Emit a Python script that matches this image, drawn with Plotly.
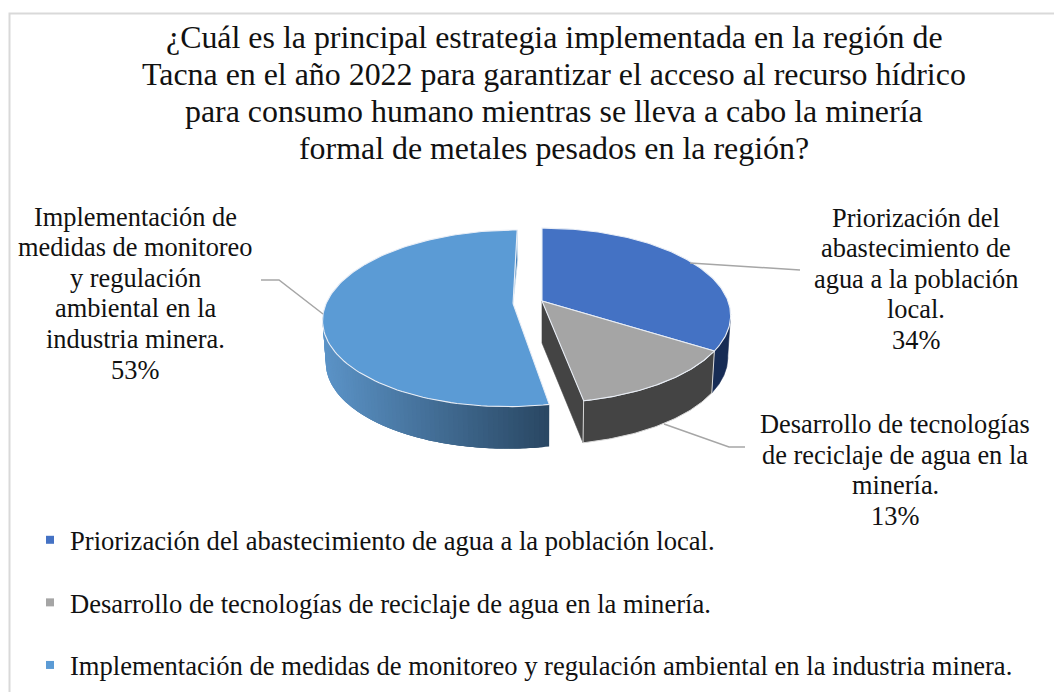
import math
import plotly.graph_objects as go

title_lines = ["¿Cuál es la principal estrategia implementada en la región de",
               "Tacna en el año 2022 para garantizar el acceso al recurso hídrico",
               "para consumo humano mientras se lleva a cabo la minería",
               "formal de metales pesados en la región?"]
categories = ["Priorización del abastecimiento de agua a la población local.",
              "Desarrollo de tecnologías de reciclaje de agua en la minería.",
              "Implementación de medidas de monitoreo y regulación ambiental en la industria minera."]
values = [34, 13, 53]
wrapped = [["Priorización del", "abastecimiento de", "agua a la población", "local."],
           ["Desarrollo de tecnologías", "de reciclaje de agua en la", "minería."],
           ["Implementación de", "medidas de monitoreo", "y regulación", "ambiental en la", "industria minera."]]
top_colors = ["#4472C4", "#A5A5A5", "#5B9BD5"]
wall_colors = ["#172C55", "#444444", None]
FONT = "Liberation Serif"

# projection of the pie disc
CX, CY, A, B, K = 542, 301, 186, 85, 0.166
DEPTH, SHRINK = 42, 0.985
EXPLODE = [(0, 0), (0, 0), (-0.155, -0.03)]


def project(X, Y, off=(0, 0), low=False):
    X, Y = X + off[0], Y + off[1]
    d = 1 + K * Y
    x, y = CX + A * X / d, CY - B * Y / d
    if low:
        x, y = CX + SHRINK * (x - CX), y + DEPTH
    return x, y


def arc(t0, t1, off, low=False, n=60):
    pts = []
    for i in range(n + 1):
        t = math.radians(t0 + (t1 - t0) * i / n)
        pts.append(project(math.sin(t), math.cos(t), off, low))
    return pts


def poly(fig, pts, fill, line="white", width=1.0):
    kw = dict(mode="lines", line=dict(color=line, width=width)) if width else dict(mode="none")
    fig.add_trace(go.Scatter(x=[p[0] for p in pts] + [pts[0][0]],
                             y=[p[1] for p in pts] + [pts[0][1]],
                             fill="toself", fillcolor=fill,
                             hoverinfo="skip", showlegend=False, **kw))


def mix(c0, c1, f):
    f = max(0, min(1, f))
    return "rgb(%d,%d,%d)" % tuple(c0[i] + (c1[i] - c0[i]) * f for i in range(3))


total = sum(values)
edges = [0]
for v in values:
    edges.append(edges[-1] + 360 * v / total)
SILHOUETTE = 261.4   # left outline of the disc
RIGHT_SILH = 98.6    # right outline of the disc

fig = go.Figure()

# exploded big slice: outer wall as a horizontal gradient, strips overlap to hide seams
big0, big1 = edges[2], edges[3]
off = EXPLODE[2]
N = 70
x_right = project(math.sin(math.radians(big0)), math.cos(math.radians(big0)), off)[0]
x_left = project(math.sin(math.radians(SILHOUETTE)), math.cos(math.radians(SILHOUETTE)), off)[0]
for i in range(N):
    t0 = big0 + (SILHOUETTE - big0) * i / N
    t1 = min(SILHOUETTE, t0 + (SILHOUETTE - big0) * 3 / N)
    up = arc(t0, t1, off, n=4)
    lo = arc(t0, t1, off, low=True, n=4)
    f = (x_right - up[0][0]) / (x_right - x_left)
    col = mix((42, 72, 100), (92, 148, 200), f)
    poly(fig, lo + up[::-1], col, width=0)

# blue slice wall
o0 = EXPLODE[0]
poly(fig, arc(RIGHT_SILH, edges[1], o0) + arc(RIGHT_SILH, edges[1], o0, low=True)[::-1], wall_colors[0], line=wall_colors[0], width=0.6)

# grey slice walls: cut face and outer wall
o1 = EXPLODE[1]
apex = project(0, 0, o1)
a0 = arc(edges[2], edges[2], o1, n=1)[0]
poly(fig, [apex, a0, arc(edges[2], edges[2], o1, low=True, n=1)[0], project(0, 0, o1, low=True)], wall_colors[1], line=wall_colors[1], width=0.6)
poly(fig, arc(edges[1], edges[2], o1) + arc(edges[1], edges[2], o1, low=True)[::-1], wall_colors[1], line="#D9D9D9", width=1)

# top faces and legend entries
for i in range(3):
    off = EXPLODE[i]
    apex = project(0, 0, off)
    pts = [apex] + arc(edges[i], edges[i + 1], off, n=120)
    if i == 2:
        tip = pts[-1]
        poly(fig, [apex, tip, (tip[0] + 0.6, tip[1] + 30)], "#4B84BA", line="#DCE8F3", width=0.8)
    poly(fig, pts, top_colors[i], line="#E9EEF6", width=1.1)
    fig.add_trace(go.Scatter(x=[None], y=[None], mode="markers", name=categories[i],
                             legendgroup=categories[i],
                             marker=dict(symbol="square", size=8, color=top_colors[i])))

# leader lines and frame
LEAD = "#A6A6A6"
shapes = [
    dict(type="path", path="M 690 263 L 800 270", line=dict(color=LEAD, width=1.5), xref="x", yref="y"),
    dict(type="path", path="M 261 280 L 279 280 L 323 314", line=dict(color=LEAD, width=1.5), xref="x", yref="y"),
    dict(type="path", path="M 664 424 L 729 447 L 745 447", line=dict(color=LEAD, width=1.5), xref="x", yref="y"),
    dict(type="path", path="M 9.5 692 L 9.5 13.5 L 1054 13.5", line=dict(color="#D9D9D9", width=2), xref="x", yref="y"),
]

annotations = []


def add_text(text, x, y, size):
    annotations.append(dict(text=text, x=x, y=y, xref="x", yref="y", showarrow=False,
                            xanchor="center", yanchor="middle",
                            font=dict(family=FONT, size=size, color="#111111")))


for line, y in zip(title_lines, [37, 74, 111, 148]):
    add_text(line, 554, y, 31.9)

label_x = [916, 895, 135]
label_y = [217.5, 424, 216.5]
for i in range(3):
    lines = wrapped[i] + [f"{values[i]}%"]
    for j, line in enumerate(lines):
        add_text(line, label_x[i], label_y[i] + j * 30.6, 26.4)

fig.update_layout(
    width=1054, height=692, margin=dict(l=0, r=0, t=0, b=0, pad=0, autoexpand=False),
    paper_bgcolor="white", plot_bgcolor="white",
    xaxis=dict(range=[0, 1054], visible=False, fixedrange=True),
    yaxis=dict(range=[692, 0], visible=False, fixedrange=True),
    shapes=shapes, annotations=annotations,
    legend=dict(x=30 / 1054, xanchor="left", y=1 - 516 / 692, yanchor="top",
                bgcolor="rgba(0,0,0,0)", tracegroupgap=25, itemclick=False, itemdoubleclick=False,
                font=dict(family=FONT, size=26.6, color="#111111")),
)
fig.write_html("out.html", config=dict(displayModeBar=False),
               post_script="document.body.style.margin='0';")
